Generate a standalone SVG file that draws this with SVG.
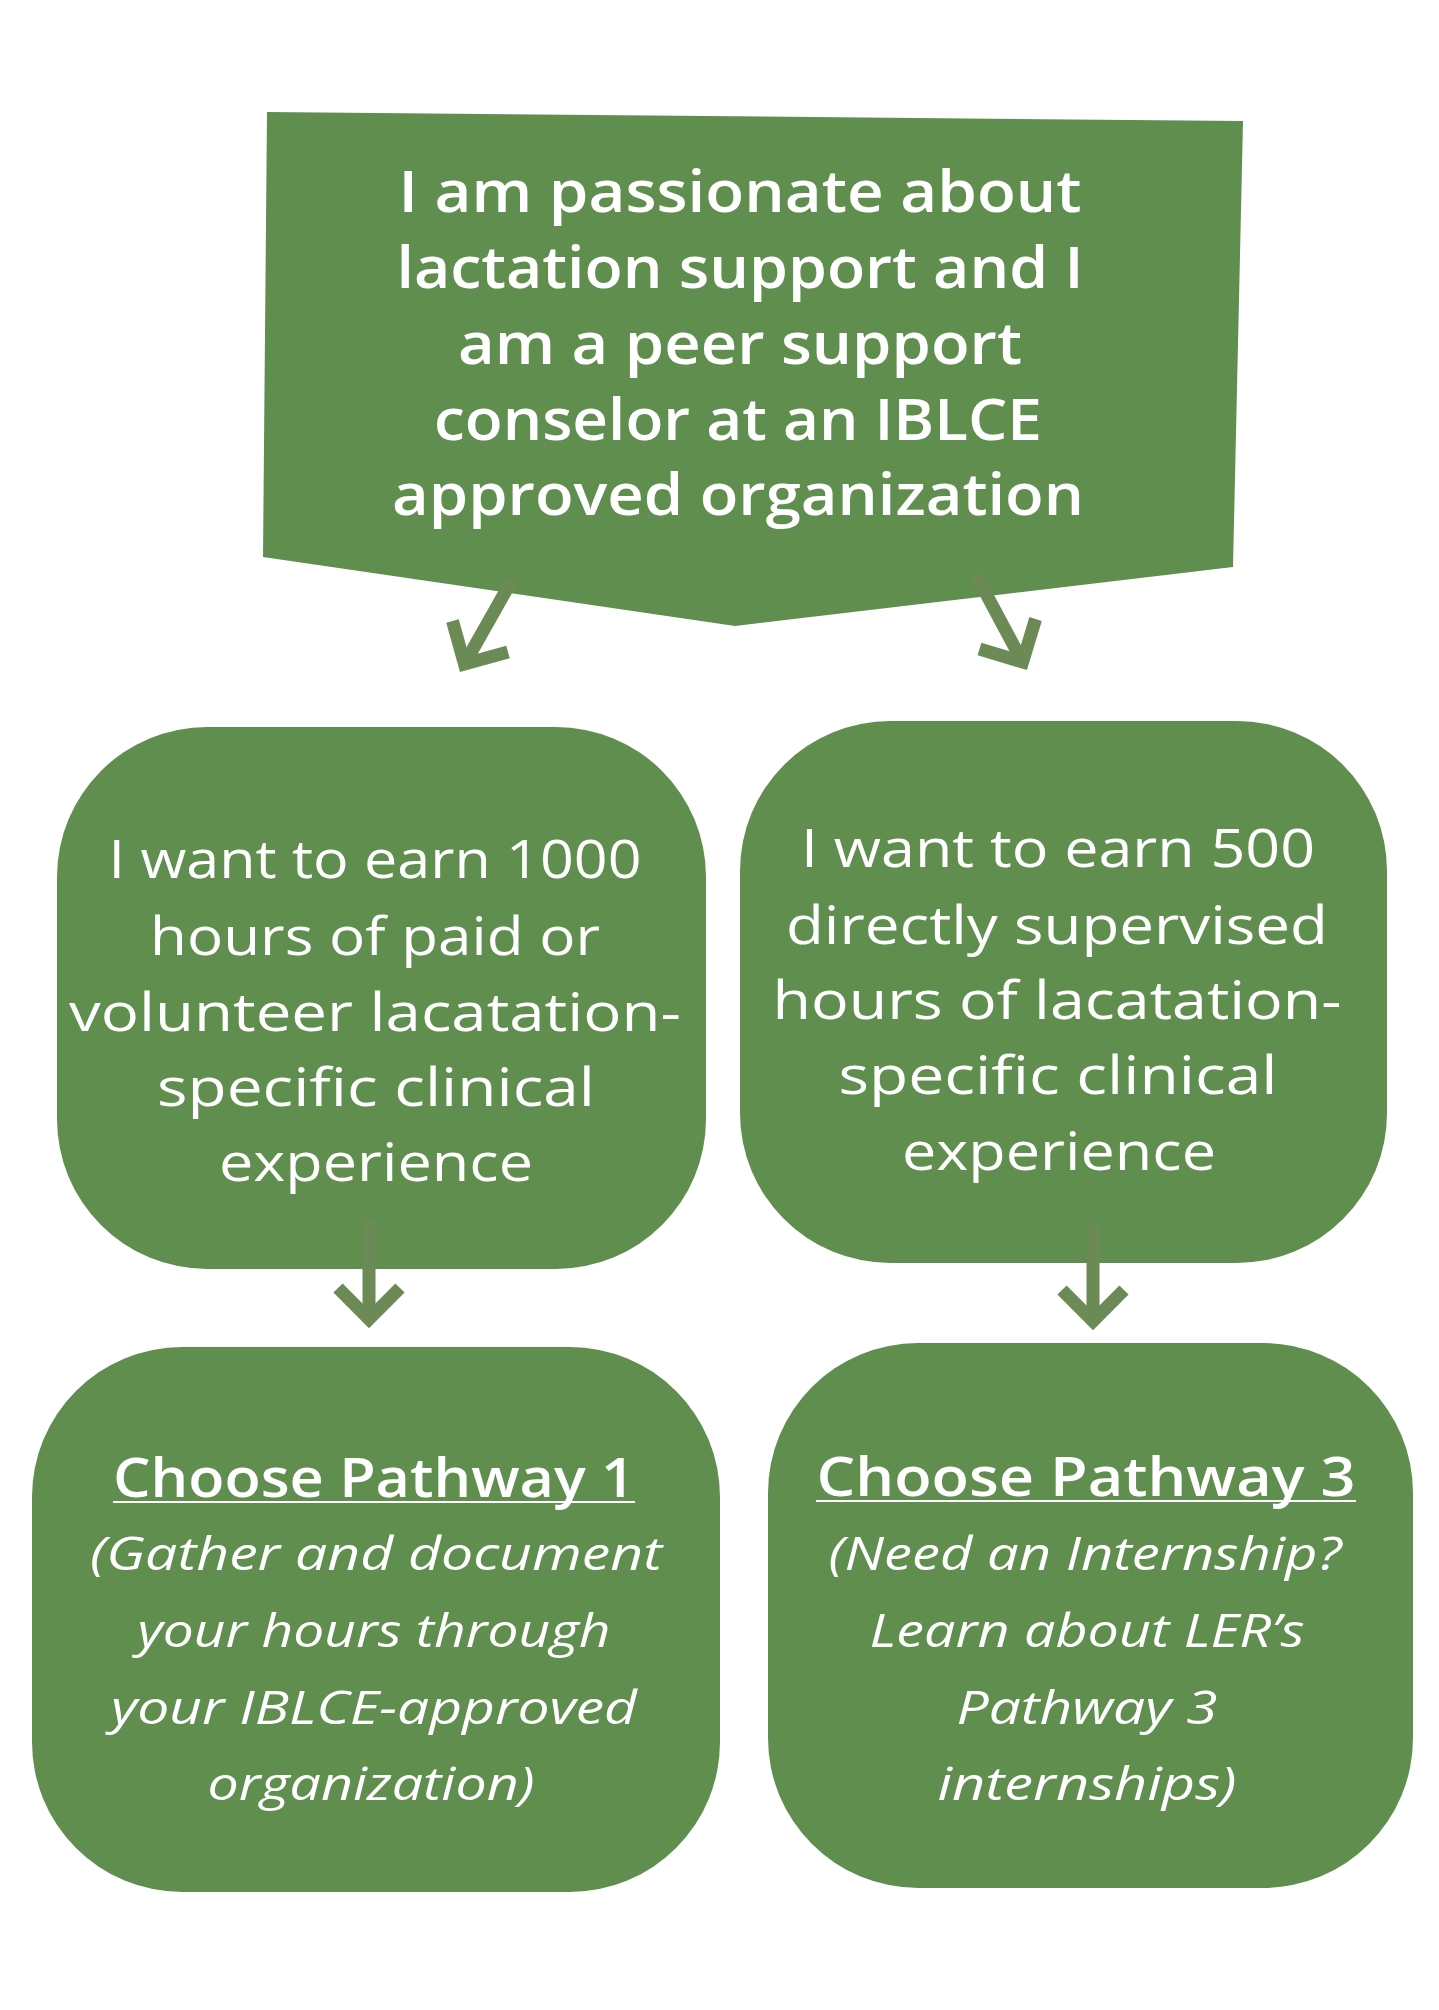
<svg xmlns="http://www.w3.org/2000/svg" width="1439" height="2010" viewBox="0 0 1439 2010">
<style>
.node{fill:#608e4f;}
.t{fill:#ffffff;font-family:"Open Sans","Liberation Sans",sans-serif;text-anchor:middle;}
.banner{font-size:58px;font-weight:600;}
.body{font-size:53px;font-weight:400;}
.head{font-size:54px;font-weight:600;}
.ital{font-size:46px;font-weight:400;font-style:italic;}
.ul{stroke:#ffffff;stroke-width:2;}
.arrow{fill:none;stroke:#6b8a55;stroke-width:13;stroke-linejoin:miter;stroke-linecap:butt;}
</style>
<rect x="0" y="0" width="1439" height="2010" fill="#ffffff"/>
<g id="start">
<polygon class="node" points="267,112 1243,121 1233,567 735,626 263,557"/>
<text class="t banner" x="740" y="212" textLength="683" lengthAdjust="spacingAndGlyphs">I am passionate about</text>
<text class="t banner" x="740" y="288" textLength="687" lengthAdjust="spacingAndGlyphs">lactation support and I</text>
<text class="t banner" x="740" y="364" textLength="564" lengthAdjust="spacingAndGlyphs">am a peer support</text>
<text class="t banner" x="738" y="440" textLength="608" lengthAdjust="spacingAndGlyphs">conselor at an IBLCE</text>
<text class="t banner" x="738" y="515" textLength="692" lengthAdjust="spacingAndGlyphs">approved organization</text>
</g>
<g id="hours1000">
<rect class="node" x="57" y="727" width="649" height="542" rx="150" ry="150"/>
<text class="t body" x="375" y="878" textLength="533" lengthAdjust="spacingAndGlyphs">I want to earn 1000</text>
<text class="t body" x="375" y="955" textLength="450" lengthAdjust="spacingAndGlyphs">hours of paid or</text>
<text class="t body" x="375" y="1031" textLength="612" lengthAdjust="spacingAndGlyphs">volunteer lacatation-</text>
<text class="t body" x="376" y="1106" textLength="438" lengthAdjust="spacingAndGlyphs">specific clinical</text>
<text class="t body" x="376" y="1181" textLength="314" lengthAdjust="spacingAndGlyphs">experience</text>
</g>
<g id="hours500">
<rect class="node" x="740" y="721" width="647" height="542" rx="150" ry="150"/>
<text class="t body" x="1058" y="867" textLength="514" lengthAdjust="spacingAndGlyphs">I want to earn 500</text>
<text class="t body" x="1057" y="944" textLength="542" lengthAdjust="spacingAndGlyphs">directly supervised</text>
<text class="t body" x="1057" y="1019" textLength="569" lengthAdjust="spacingAndGlyphs">hours of lacatation-</text>
<text class="t body" x="1058" y="1094" textLength="439" lengthAdjust="spacingAndGlyphs">specific clinical</text>
<text class="t body" x="1059" y="1170" textLength="314" lengthAdjust="spacingAndGlyphs">experience</text>
</g>
<g id="pathway1">
<rect class="node" x="32" y="1347" width="688" height="545" rx="150" ry="150"/>
<text class="t head" x="374" y="1497" textLength="522" lengthAdjust="spacingAndGlyphs">Choose Pathway 1</text>
<line class="ul" x1="113" y1="1502" x2="635" y2="1502"/>
<text class="t ital" x="376" y="1570" textLength="572" lengthAdjust="spacingAndGlyphs">(Gather and document</text>
<text class="t ital" x="374" y="1647" textLength="473" lengthAdjust="spacingAndGlyphs">your hours through</text>
<text class="t ital" x="374" y="1724" textLength="526" lengthAdjust="spacingAndGlyphs">your IBLCE-approved</text>
<text class="t ital" x="371" y="1800" textLength="327" lengthAdjust="spacingAndGlyphs">organization)</text>
</g>
<g id="pathway3">
<rect class="node" x="768" y="1343" width="645" height="545" rx="150" ry="150"/>
<text class="t head" x="1086" y="1496" textLength="539" lengthAdjust="spacingAndGlyphs">Choose Pathway 3</text>
<line class="ul" x1="816" y1="1501" x2="1356" y2="1501"/>
<text class="t ital" x="1085" y="1570" textLength="513" lengthAdjust="spacingAndGlyphs">(Need an Internship?</text>
<text class="t ital" x="1087" y="1647" textLength="435" lengthAdjust="spacingAndGlyphs">Learn about LER’s</text>
<text class="t ital" x="1087" y="1724" textLength="261" lengthAdjust="spacingAndGlyphs">Pathway 3</text>
<text class="t ital" x="1087" y="1800" textLength="299" lengthAdjust="spacingAndGlyphs">internships)</text>
</g>
<g id="connectors">
<line class="arrow" x1="512" y1="580" x2="464.5" y2="664"/>
<polyline class="arrow" points="452.5,621 464.5,664 508,652"/>
<line class="arrow" x1="976" y1="575" x2="1022.6" y2="662"/>
<polyline class="arrow" points="1035.6,619 1022.6,662 979.5,649"/>
<line class="arrow" x1="369" y1="1220" x2="369" y2="1319"/>
<polyline class="arrow" points="338,1288 369,1319 400,1288"/>
<line class="arrow" x1="1093" y1="1223" x2="1093" y2="1321"/>
<polyline class="arrow" points="1062,1290 1093,1321 1124,1290"/>
</g>
</svg>
